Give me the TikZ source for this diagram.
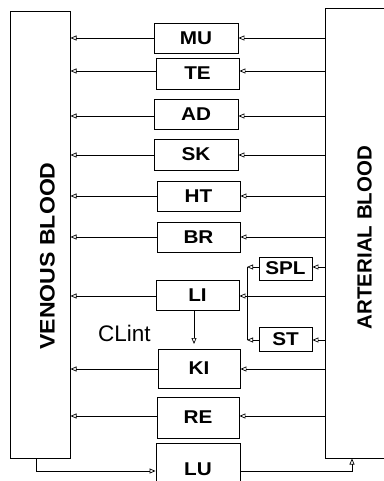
\documentclass[tikz,border=0pt]{standalone}
\usepackage{fontspec}
\usetikzlibrary{arrows.meta}
\newfontfamily\orgfont[FakeStretch=1.12]{Liberation Sans}
\newfontfamily\venfont[FakeStretch=1.1]{Liberation Sans}
\newfontfamily\artfont{Liberation Sans}
\newfontfamily\plainfont{Liberation Sans}
\begin{document}
\begin{tikzpicture}[x=1pt,y=-1pt,
  organ/.style={draw, line width=0.9pt, inner sep=0pt, font=\orgfont\bfseries\fontsize{18.5}{18.5}\selectfont},
  big/.style={draw, line width=1pt, inner sep=0pt},
  flow/.style={-{Triangle[open,length=6pt,width=5pt]}, line width=0.7pt},
  side/.style={inner sep=0pt, rotate=90}]
\useasboundingbox (0,0) rectangle (383,481);
% blood pools
\node[big, minimum width=60pt, minimum height=446pt] (ven) at (40,235) {};
\node[big, minimum width=80pt, minimum height=449pt] (art) at (365,233.5) {};
\node[side, font=\venfont\bfseries\fontsize{21}{21}\selectfont] (venlab) at (47.5,256) {VENOUS BLOOD};
\node[side, font=\artfont\bfseries\fontsize{20.5}{20.5}\selectfont] (artlab) at (364.5,237.5) {ARTERIAL BLOOD};
% organs
\node[organ, minimum width=84pt, minimum height=30pt] (mu) at (196,38) {MU};
\node[organ, minimum width=83pt, minimum height=31pt] (te) at (197.5,73.5) {TE};
\node[organ, minimum width=84pt, minimum height=30pt] (ad) at (196,114) {AD};
\node[organ, minimum width=84pt, minimum height=31pt] (sk) at (196,154.5) {SK};
\node[organ, minimum width=83pt, minimum height=30pt] (ht) at (198.5,196) {HT};
\node[organ, minimum width=83pt, minimum height=30pt] (br) at (198.5,237) {BR};
\node[organ, minimum width=53pt, minimum height=23pt] (spl) at (285.5,268.5) {SPL};
\node[organ, minimum width=83pt, minimum height=30pt] (li) at (197.5,295) {LI};
\node[organ, minimum width=53pt, minimum height=24pt] (st) at (285.5,339) {ST};
\node[organ, minimum width=82pt, minimum height=39pt] (ki) at (199,368.5) {KI};
\node[organ, minimum width=82pt, minimum height=41pt] (re) at (198,417.5) {RE};
\node[organ, minimum width=84pt, minimum height=52pt] (lu) at (198,469) {};
\node[font=\orgfont\bfseries\fontsize{18.5}{18.5}\selectfont, inner sep=0pt] (lulab) at (198,469.5) {LU};
\node[font=\plainfont\fontsize{22.5}{22.5}\selectfont, inner sep=0pt] (clint) at (124.5,333) {CLint};
% organ -> venous
\foreach \o/\yy in {mu/38,te/71,ad/116,sk/155,ht/196,br/237,li/296,ki/369,re/416}{
  \draw[flow] (\o.west |- 0,\yy) -- (ven.east |- 0,\yy);
}
% arterial -> organ
\foreach \o/\yy in {mu/38,te/71,ad/116,sk/155,ht/196,br/237,li/296,ki/369,re/416,spl/267,st/340}{
  \draw[flow] (art.west |- 0,\yy) -- (\o.east |- 0,\yy);
}
% portal
\coordinate (pt) at (247,267);
\coordinate (pb) at (247,340);
\draw[flow] (spl.west |- pt) -- (pt);
\draw[flow] (st.west |- pb) -- (pb);
\draw[line width=0.7pt] (pt) -- (pb);
% LI -> KI
\draw[flow] (li.south -| 194,0) -- (194,344);
% lung loop
\coordinate (vb) at (36,471);
\coordinate (ab) at (352,471);
\draw[flow] (ven.south -| vb) -- (vb) -- (lu.west |- vb);
\draw[flow] (lu.east |- ab) -- (ab) -- (art.south -| ab);
\end{tikzpicture}
\end{document}
